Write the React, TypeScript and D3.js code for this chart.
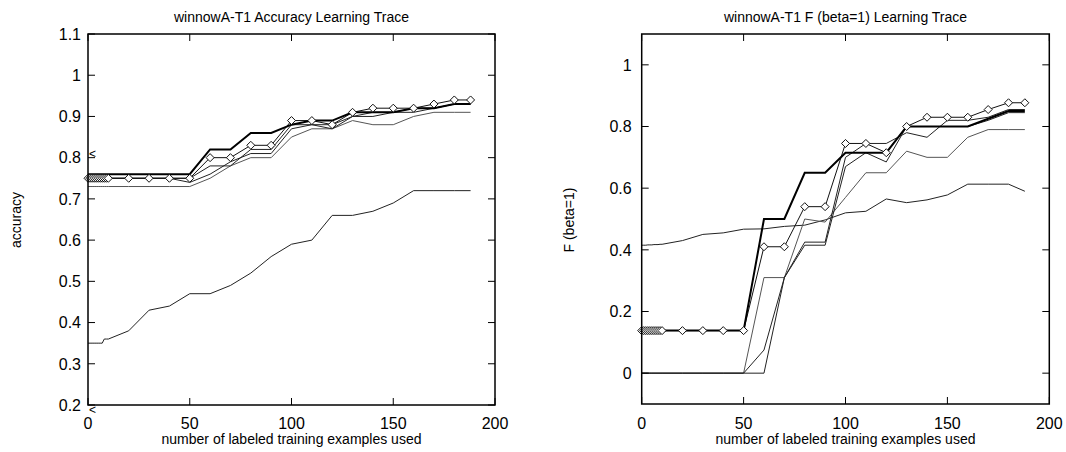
import React from 'react';
import * as d3 from 'd3';

// training set sizes shared by every trace
const sizes = [0, 1, 2, 3, 4, 5, 6, 7, 8, 9, 10, 20, 30, 40, 50, 60, 70, 80, 90, 100, 110, 120, 130, 140, 150, 160, 170, 180, 188];

// accuracy traces (left panel)
const accThick = [0.76, 0.76, 0.76, 0.76, 0.76, 0.76, 0.76, 0.76, 0.76, 0.76, 0.76, 0.76, 0.76, 0.76, 0.76, 0.82, 0.82, 0.86, 0.86, 0.88, 0.89, 0.89, 0.91, 0.91, 0.91, 0.92, 0.92, 0.93, 0.93];
const accDiamond = [0.75, 0.75, 0.75, 0.75, 0.75, 0.75, 0.75, 0.75, 0.75, 0.75, 0.75, 0.75, 0.75, 0.75, 0.75, 0.80, 0.80, 0.83, 0.83, 0.89, 0.89, 0.88, 0.91, 0.92, 0.92, 0.92, 0.93, 0.94, 0.94];
const accB = [0.75, 0.75, 0.75, 0.75, 0.75, 0.75, 0.75, 0.75, 0.75, 0.75, 0.75, 0.75, 0.75, 0.75, 0.75, 0.78, 0.78, 0.82, 0.82, 0.88, 0.88, 0.88, 0.90, 0.91, 0.91, 0.92, 0.92, 0.93, 0.93];
const accC = [0.75, 0.75, 0.75, 0.75, 0.75, 0.75, 0.75, 0.75, 0.75, 0.75, 0.75, 0.75, 0.75, 0.75, 0.74, 0.76, 0.79, 0.81, 0.81, 0.87, 0.88, 0.87, 0.90, 0.90, 0.91, 0.91, 0.92, 0.93, 0.93];
const accE = [0.73, 0.73, 0.73, 0.73, 0.73, 0.73, 0.73, 0.73, 0.73, 0.73, 0.73, 0.73, 0.73, 0.73, 0.73, 0.75, 0.78, 0.80, 0.80, 0.85, 0.87, 0.87, 0.89, 0.88, 0.88, 0.90, 0.91, 0.91, 0.91];
const accLow = [0.35, 0.35, 0.35, 0.35, 0.35, 0.35, 0.35, 0.35, 0.36, 0.36, 0.36, 0.38, 0.43, 0.44, 0.47, 0.47, 0.49, 0.52, 0.56, 0.59, 0.60, 0.66, 0.66, 0.67, 0.69, 0.72, 0.72, 0.72, 0.72];

// F (beta=1) traces (right panel)
const fThick = [0.138, 0.138, 0.138, 0.138, 0.138, 0.138, 0.138, 0.138, 0.138, 0.138, 0.138, 0.138, 0.138, 0.138, 0.138, 0.50, 0.50, 0.65, 0.65, 0.715, 0.715, 0.715, 0.80, 0.80, 0.80, 0.80, 0.825, 0.85, 0.85];
const fDiamond = [0.138, 0.138, 0.138, 0.138, 0.138, 0.138, 0.138, 0.138, 0.138, 0.138, 0.138, 0.138, 0.138, 0.138, 0.138, 0.41, 0.41, 0.54, 0.54, 0.745, 0.745, 0.715, 0.80, 0.83, 0.83, 0.83, 0.855, 0.877, 0.877];
const fB = [0, 0, 0, 0, 0, 0, 0, 0, 0, 0, 0, 0, 0, 0, 0, 0, 0.31, 0.415, 0.415, 0.67, 0.715, 0.685, 0.80, 0.80, 0.80, 0.80, 0.82, 0.845, 0.845];
const fC = [0, 0, 0, 0, 0, 0, 0, 0, 0, 0, 0, 0, 0, 0, 0, 0.075, 0.31, 0.425, 0.425, 0.70, 0.745, 0.745, 0.78, 0.765, 0.82, 0.82, 0.83, 0.855, 0.855];
const fE = [0, 0, 0, 0, 0, 0, 0, 0, 0, 0, 0, 0, 0, 0, 0, 0.31, 0.31, 0.50, 0.49, 0.57, 0.65, 0.65, 0.72, 0.70, 0.70, 0.765, 0.79, 0.79, 0.79];
const fLow = [0.415, 0.415, 0.415, 0.416, 0.416, 0.416, 0.417, 0.417, 0.417, 0.418, 0.418, 0.43, 0.45, 0.455, 0.467, 0.468, 0.476, 0.48, 0.497, 0.52, 0.525, 0.565, 0.553, 0.562, 0.578, 0.613, 0.613, 0.613, 0.59];

const xTicks = [0, 50, 100, 150, 200];
const accTicks = [0.2, 0.3, 0.4, 0.5, 0.6, 0.7, 0.8, 0.9, 1, 1.1];
const fTicks = [0, 0.2, 0.4, 0.6, 0.8, 1];

const FONT = 'Liberation Sans, Arial, Helvetica, sans-serif';

type Series = { values: number[]; width: number; color: string; diamonds?: boolean };

type PanelProps = {
  left: number;
  right: number;
  top: number;
  bottom: number;
  yDomain: [number, number];
  yTicks: number[];
  title: string;
  yLabel: string;
  yLabelX: number;
  labelGap: number;
  series: Series[];
  marks?: { v: number; dy: number }[];
};

const Panel = (p: PanelProps) => {
  const x = d3.scaleLinear().domain([0, 200]).range([p.left, p.right]);
  const y = d3.scaleLinear().domain(p.yDomain).range([p.bottom, p.top]);
  const line = d3.line<number>()
    .x((_, i) => x(sizes[i]))
    .y((d) => y(d));
  const tick = 7;
  const cx = (p.left + p.right) / 2;

  return (
    <g>
      <text x={cx} y={22} textAnchor="middle" fontSize={14} fontFamily={FONT}>{p.title}</text>

      {p.series.map((s, k) => (
        <path key={k} d={line(s.values) || ''} fill="none" stroke={s.color} strokeWidth={s.width} strokeLinejoin="miter" />
      ))}
      {p.series.filter((s) => s.diamonds).map((s, k) => (
        <g key={'d' + k}>
          {s.values.map((v, i) => {
            const px = x(sizes[i]);
            const py = y(v);
            const r = 4;
            return (
              <path key={i} d={`M${px},${py - r}L${px + r},${py}L${px},${py + r}L${px - r},${py}Z`}
                fill="white" stroke="#111" strokeWidth={1} />
            );
          })}
        </g>
      ))}

      {p.yTicks.map((t) => (
        <g key={'y' + t}>
          <line x1={p.left} x2={p.left + tick} y1={y(t)} y2={y(t)} stroke="#000" />
          <line x1={p.right} x2={p.right - tick} y1={y(t)} y2={y(t)} stroke="#000" />
          <text x={p.left - p.labelGap} y={y(t)} dy="0.36em" textAnchor="end" fontSize={16} fontFamily={FONT}>{String(t)}</text>
        </g>
      ))}
      {xTicks.map((t) => (
        <g key={'x' + t}>
          <line x1={x(t)} x2={x(t)} y1={p.bottom} y2={p.bottom - tick} stroke="#000" />
          <line x1={x(t)} x2={x(t)} y1={p.top} y2={p.top + tick} stroke="#000" />
          <text x={x(t)} y={429} textAnchor="middle" fontSize={16} fontFamily={FONT}>{String(t)}</text>
        </g>
      ))}

      {(p.marks || []).map((m, i) => (
        <text key={'m' + i} x={p.left + 1} y={y(m.v) + m.dy} fontSize={12} fontFamily={FONT}>&lt;</text>
      ))}

      <rect x={p.left} y={p.top} width={p.right - p.left} height={p.bottom - p.top} fill="none" stroke="#000" strokeWidth={1.5} />

      <text x={cx} y={444} textAnchor="middle" fontSize={14} fontFamily={FONT}>number of labeled training examples used</text>
      <text transform={`translate(${p.yLabelX},220) rotate(-90)`} textAnchor="middle" dy="0.35em" fontSize={14} fontFamily={FONT}>{p.yLabel}</text>
    </g>
  );
};

export default function App() {
  const accSeries: Series[] = [
    { values: accLow, width: 1, color: '#222' },
    { values: accE, width: 1, color: '#555' },
    { values: accC, width: 1, color: '#222' },
    { values: accB, width: 1, color: '#222' },
    { values: accDiamond, width: 1, color: '#111', diamonds: true },
    { values: accThick, width: 2, color: '#000' },
  ];
  const fSeries: Series[] = [
    { values: fLow, width: 1, color: '#222' },
    { values: fE, width: 1, color: '#555' },
    { values: fC, width: 1, color: '#222' },
    { values: fB, width: 1, color: '#222' },
    { values: fDiamond, width: 1, color: '#111', diamonds: true },
    { values: fThick, width: 2, color: '#000' },
  ];

  return (
    <svg width={1066} height={452} style={{ position: 'absolute', left: 0, top: 0, background: '#fff' }}>
      <rect width={1066} height={452} fill="#fff" />
      <Panel
        left={88} right={495} top={34} bottom={405}
        yDomain={[0.2, 1.1]} yTicks={accTicks}
        title="winnowA-T1 Accuracy Learning Trace"
        yLabel="accuracy" yLabelX={16} labelGap={7}
        series={accSeries}
        marks={[{ v: 0.81, dy: 4 }, { v: 0.2, dy: 9 }]}
      />
      <Panel
        left={641.7} right={1049.3} top={34} bottom={404}
        yDomain={[-0.1, 1.1]} yTicks={fTicks}
        title="winnowA-T1 F (beta=1) Learning Trace"
        yLabel="F (beta=1)" yLabelX={569} labelGap={10}
        series={fSeries}
      />
    </svg>
  );
}
